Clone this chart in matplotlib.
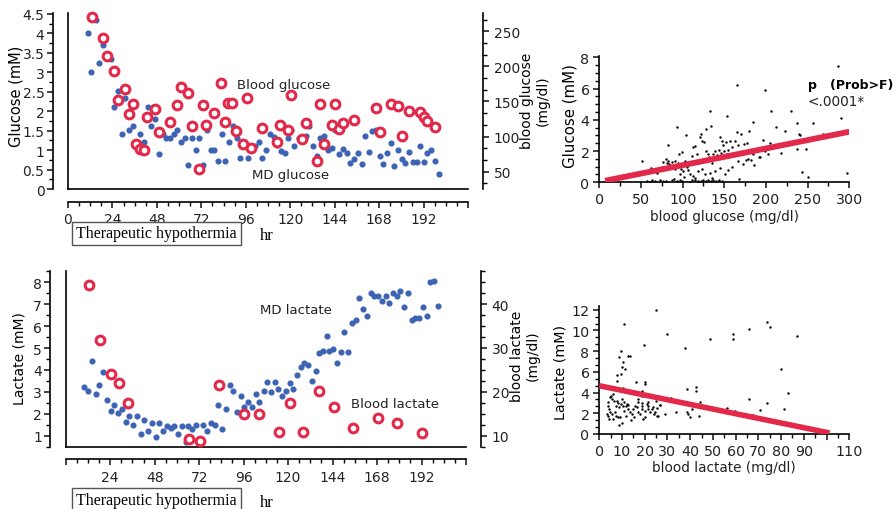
import matplotlib
matplotlib.use('Agg')
import matplotlib.pyplot as plt
from matplotlib.ticker import MultipleLocator, FixedLocator, FuncFormatter

plt.rcParams['font.family'] = ['DejaVu Sans']
plt.rcParams['font.size'] = 10

# ---------------- data ----------------
md_glu_hr = [10.6, 12.6, 15.1, 16.7, 18.9, 23.0, 25.0, 26.9, 28.9, 31.0,
             32.8, 35.0, 36.8, 38.9, 41.0, 43.0, 44.8, 46.8, 49.0, 51.1,
             53.0, 55.0, 57.0, 59.0, 61.0, 63.0, 65.0, 67.0, 69.0, 71.0,
             73.0, 75.0, 77.0, 79.0, 81.0, 83.0, 85.0, 87.0, 89.0, 91.0,
             93.0, 95.0, 97.0, 99.0, 101.0, 103.0, 105.0, 107.0, 109.0, 111.0,
             113.0, 115.0, 117.0, 119.0, 120.4, 122.3, 124.5, 126.3, 128.4, 130.4,
             132.4, 134.4, 136.3, 138.4, 140.4, 142.4, 144.3, 146.3, 148.4, 150.4,
             152.4, 154.5, 156.5, 158.5, 160.6, 162.4, 164.4, 166.3, 168.3, 170.3,
             172.2, 174.2, 176.2, 178.1, 180.3, 182.1, 184.1, 186.2, 188.2, 190.2,
             192.1, 194.1, 196.1, 198.2, 200.2]
md_glu_mM = [4.0, 3.0, 4.33, 3.23, 3.7, 3.33, 2.1, 2.52, 1.42, 2.33,
             1.52, 1.62, 1.2, 1.42, 1.2, 2.1, 1.62, 1.8, 0.9, 1.42,
             1.3, 1.3, 1.42, 1.52, 1.2, 1.3, 0.62, 1.3, 1.0, 1.3,
             0.62, 1.52, 1.0, 1.0, 0.72, 1.42, 0.72, 1.2, 1.62, 1.3,
             0.8, 1.2, 0.8, 1.1, 1.1, 1.2, 0.8, 1.0, 1.4, 1.33,
             1.13, 0.98, 0.92, 1.3, 1.52, 1.10, 1.31, 1.24, 1.37, 1.62,
             1.10, 0.85, 1.32, 1.35, 1.0, 1.05, 1.51, 0.90, 1.02, 0.93,
             0.67, 0.76, 0.93, 0.64, 1.37, 0.96, 1.48, 1.51, 0.84, 0.64,
             0.93, 1.18, 0.60, 0.99, 0.78, 0.66, 0.96, 0.70, 0.70, 1.10,
             0.70, 0.93, 0.99, 0.73, 0.38]

blood_glu_hr = [13.0, 18.9, 21.0, 24.9, 26.8, 31.0, 33.0, 35.0, 36.9, 38.9,
                41.0, 42.8, 46.8, 49.0, 54.9, 58.8, 60.8, 64.7, 66.7, 70.8,
                72.7, 74.7, 78.6, 82.6, 84.7, 86.5, 88.7, 90.6, 94.6, 96.5,
                98.7, 104.5, 112.6, 114.7, 118.6, 120.6, 126.3, 128.4, 134.5, 136.3,
                138.3, 142.4, 144.3, 146.3, 148.3, 154.5, 166.3, 168.3, 174.2, 178.1,
                180.1, 184.1, 190.2, 192.1, 194.1, 198.0]
blood_glu_mgdl = [270, 240, 214.5, 194, 152.5, 168, 132, 147, 90, 83,
                  81, 127.5, 139, 106, 120.4, 144.7, 171, 161.5, 115.4, 53.8,
                  144.7, 117, 133.6, 177, 120.4, 148, 148, 108, 88.8, 154.6,
                  84.3, 112, 92.6, 117, 109.8, 159, 96.6, 119.4, 64.8, 146,
                  89, 117, 147, 110.8, 118.9, 123.2, 141.2, 107, 147, 144,
                  101.3, 137, 135.5, 127.5, 122.2, 114.1]

md_lac_hr = [9.9, 12.3, 14.3, 16.3, 18.2, 20.2, 22.2, 24.3, 26.3, 28.2,
             30.2, 32.4, 34.4, 36.3, 38.3, 40.4, 42.4, 44.4, 46.4, 48.5,
             50.5, 52.4, 54.4, 56.6, 58.6, 60.5, 62.5, 64.7, 66.1, 68.3,
             70.2, 74.2, 76.3, 78.3, 80.4, 82.4, 84.4, 86.4, 88.5, 90.5,
             92.5, 94.4, 96.4, 98.6, 100.5, 102.5, 104.5, 106.8, 108.5, 110.8,
             112.7, 114.8, 116.7, 118.8, 120.8, 122.8, 124.7, 126.9, 128.8, 131.0,
             132.8, 134.8, 136.8, 138.9, 140.9, 142.3, 144.3, 146.3, 148.4, 150.4,
             152.5, 154.5, 156.6, 158.4, 160.6, 162.6, 164.6, 166.5, 168.5, 170.6,
             172.6, 174.6, 176.6, 178.5, 180.5, 182.6, 184.8, 186.6, 188.5, 190.7,
             192.8, 194.8, 196.8, 198.8, 200.9]
md_lac_mM = [3.21, 3.04, 4.39, 2.92, 3.33, 3.89, 2.64, 2.13, 2.41, 2.02,
             2.23, 1.62, 1.88, 1.49, 1.88, 1.09, 1.73, 1.20, 1.60, 0.93,
             1.60, 1.20, 1.44, 1.34, 1.44, 1.08, 1.44, 0.70, 1.44, 1.30,
             1.49, 1.49, 1.20, 1.60, 1.49, 2.41, 1.31, 2.23, 3.33, 3.04,
             2.10, 2.80, 2.29, 2.54, 2.29, 2.92, 2.54, 3.05, 3.44, 2.98,
             3.44, 3.13, 2.80, 3.05, 3.40, 3.14, 3.78, 4.12, 4.32, 4.25,
             3.48, 3.95, 4.77, 4.88, 5.56, 4.87, 4.97, 4.30, 4.81, 5.72,
             4.81, 6.13, 6.29, 7.27, 6.77, 6.46, 7.50, 7.39, 7.39, 7.16,
             7.38, 7.04, 7.50, 7.38, 7.62, 6.86, 7.50, 6.29, 6.36, 6.36,
             6.86, 6.45, 8.00, 8.07, 6.93]

blood_lac_hr = [12.5, 18.4, 24.5, 28.5, 33.5, 66.4, 72.4, 82.6, 96.4, 104.5,
                114.9, 120.8, 128.3, 136.8, 144.8, 154.9, 168.5, 178.5, 192.5]
blood_lac_mgdl = [44.4, 31.7, 24.1, 22.1, 17.4, 9.3, 8.9, 21.6, 14.9, 15.0,
                  10.9, 17.4, 10.9, 20.3, 16.5, 11.8, 14.0, 12.8, 10.6]

# scatter: MD glucose (mM) vs blood glucose (mg/dl)
sg_blood = [286.8, 165.6, 199.2, 133.2, 152.8, 206.0, 230.0, 290.0, 237.6, 256.8,
            184.8, 212.0, 222.8, 93.2, 104.0, 82.4, 51.2, 242.8, 250.8, 297.6,
            239.2, 240.8, 236.8, 248.0, 217.6, 192.0, 268.8, 230.8, 204.8,
            80.0, 82.8, 86.8, 90.8, 80.8, 95.6, 99.6, 102.8, 104.8, 106.8,
            110.8, 112.8, 114.8, 116.8, 118.8, 120.8, 122.0, 123.6, 126.0, 127.6,
            128.4, 130.0, 131.6, 133.6, 134.8, 136.8, 138.8, 140.8, 142.0, 143.6,
            144.8, 146.0, 147.6, 148.8, 150.0, 151.6, 152.8, 154.0, 154.8, 156.4,
            158.0, 158.8, 160.8, 162.8, 164.8, 166.0, 166.8, 167.6, 170.0, 170.8,
            172.8, 174.0, 175.6, 176.8, 178.8, 180.0, 182.0, 184.0, 186.0, 188.8,
            192.8, 196.8, 198.8, 202.8,
            90.8, 96.8, 100.8, 108.8, 112.8, 118.8, 122.8, 126.8, 132.8, 138.8,
            144.8, 150.8, 154.8, 159.6, 102.0, 114.8, 134.8,
            62.0, 68.8, 74.8, 76.8, 83.6, 88.8, 94.8, 98.0,
            57.6, 60.8, 63.6, 66.8, 72.8, 76.8, 79.6, 87.6, 90.0, 92.8,
            96.8, 99.6, 108.8, 111.8, 114.8, 118.0, 122.0, 124.8, 127.6, 130.8,
            134.0, 136.8, 139.6, 143.6, 146.8]
sg_md = [7.47, 6.23, 5.91, 4.59, 4.22, 4.57, 4.59, 4.10, 3.80, 3.78,
         3.88, 3.52, 3.30, 3.56, 3.03, 2.41, 1.38, 0.63, 0.31, 0.59,
         3.09, 3.05, 2.11, 2.15, 1.89, 1.59, 3.09, 2.45, 2.49,
         1.47, 1.34, 1.27, 1.34, 1.21, 1.81, 1.92, 1.38, 0.95, 0.78,
         1.70, 2.24, 2.34, 1.81, 1.38, 2.88, 3.09, 2.62, 2.56, 3.41,
         2.02, 1.81, 1.60, 3.63, 1.21, 1.81, 2.02, 1.77, 1.64, 2.07,
         2.92, 1.85, 2.62, 2.41, 2.02, 2.56, 1.81, 1.60, 2.07, 2.62,
         1.70, 2.24, 1.81, 2.62, 3.20, 2.41, 1.38, 0.23, 3.09, 1.81,
         1.17, 2.45, 1.42, 2.49, 1.49, 3.26, 1.42, 1.81, 1.13, 2.02,
         1.60, 2.71, 2.02, 1.81,
         0.85, 0.53, 0.70, 0.53, 0.42, 0.70, 0.85, 0.53, 0.57, 0.74,
         0.91, 0.53, 0.78, 0.99, 0.31, 0.27, 0.27,
         0.91, 0.61, 0.95, 1.27, 1.17, 1.06, 1.21, 0.85,
         0.10, 0.05, 0.12, 0.08, 0.15, 0.10, 0.06, 0.12, 0.18, 0.08,
         0.14, 0.10, 0.05, 0.12, 0.16, 0.08, 0.10, 0.14, 0.06, 0.12,
         0.09, 0.15, 0.10, 0.12, 0.07]

# scatter: MD lactate (mM) vs blood lactate (mg/dl)
sl_blood = [24.8, 10.7, 29.8, 48.8, 58.9, 58.9, 65.9, 73.9, 74.9, 86.9,
            19.8, 37.7, 79.9, 83.0, 81.1, 73.9, 70.9, 65.9, 67.7, 59.8,
            56.0, 42.7, 42.7, 38.8, 44.1, 40.7, 38.5, 38.9, 40.0, 43.9,
            33.8, 31.6, 29.0,
            9.56, 8.68, 10.3, 12.5, 13.5, 9.85, 9.71, 11.5, 7.80, 7.80,
            10.6, 16.2, 20.0, 20.0, 18.7, 19.0, 24.8, 26.7,
            3.98, 4.72, 5.16, 5.74, 6.18, 6.62, 7.21, 3.69, 4.28, 3.25,
            3.98, 4.86, 5.45, 6.18, 7.65, 8.39, 8.68, 9.56, 10.15, 10.59,
            11.03, 11.62, 12.06, 12.79, 7.21, 8.09, 8.68, 9.85, 9.12, 11.62,
            13.52, 13.96, 14.99, 15.73, 16.46, 16.90, 17.19, 17.93, 18.66, 18.96,
            19.40, 20.13, 20.86, 21.30, 21.60, 22.33, 23.07, 23.80, 24.53, 25.27,
            25.71, 26.74, 18.66, 15.43, 14.26, 20.13, 24.24, 25.27, 21.60, 17.19,
            4.28, 6.92, 11.03, 12.50]
sl_md = [11.94, 10.62, 9.68, 9.20, 9.65, 9.14, 10.13, 10.81, 10.30, 9.46,
         8.56, 8.27, 6.31, 3.96, 2.41, 2.99, 2.29, 3.41, 1.84, 2.22,
         2.51, 4.57, 4.18, 4.38, 3.06, 2.41, 2.09, 1.93, 1.61, 1.71,
         2.09, 3.44, 1.96,
         8.01, 7.40, 6.98, 7.50, 7.50, 6.44, 5.79, 6.27, 5.70, 5.12,
         4.41, 5.05, 4.99, 4.83, 4.18, 3.70, 3.22, 2.83,
         3.06, 3.54, 3.70, 3.38, 3.86, 3.22, 2.74, 2.74, 2.41, 1.93,
         1.77, 2.16, 1.93, 1.45, 3.22, 2.99, 2.58, 2.90, 3.38, 2.74,
         3.06, 2.67, 2.90, 2.41, 1.77, 1.61, 0.87, 1.06, 1.61, 1.77,
         2.09, 1.38, 2.41, 2.74, 2.58, 3.38, 2.09, 1.93, 2.99, 2.74,
         1.45, 1.61, 2.90, 2.41, 2.74, 2.09, 2.41, 2.58, 2.09, 2.54,
         1.71, 2.80, 2.41, 1.61, 1.93, 2.25, 1.93, 1.77, 3.06, 3.06,
         1.45, 2.09, 2.25, 2.80]

# regression fits (intercept, slope, x-range)
glu_fit = (0.025, 0.0107, 7, 300)
lac_fit = (4.66, -0.045, 0, 101.3)

hour_ticks = [0, 24, 48, 72, 96, 120, 144, 168, 192, 216]

# ---------------- figure ----------------
W, H = 895, 510
fig = plt.figure(figsize=(W / 100, H / 100), dpi=100)


def box(l, t, r, b):
    return [l / W, 1 - b / H, (r - l) / W, (b - t) / H]


BLUE = '#3D63B4'
RED = '#E3294A'
LW = 1.2
TXT = '#222222'
TICK_FS = 10


def style_time(ax, axr, hide):
    ax.spines['top'].set_visible(False)
    ax.spines['right'].set_visible(False)
    for s in ['left', 'bottom', 'top']:
        axr.spines[s].set_visible(False)
    ax.spines['left'].set_position(('outward', 11))
    ax.spines['bottom'].set_position(('outward', 9))
    axr.spines['right'].set_position(('outward', 11))
    for sp in [ax.spines['left'], ax.spines['bottom'], axr.spines['right']]:
        sp.set_linewidth(LW)
    ax.plot([0, 0], [0, 1], transform=ax.transAxes, color='k', lw=LW, clip_on=False)
    ax.plot([0, 1], [0, 0], transform=ax.transAxes, color='k', lw=LW, clip_on=False)
    ax.set_xlim(0, 216)
    ax.xaxis.set_major_locator(FixedLocator(hour_ticks))
    ax.xaxis.set_minor_locator(MultipleLocator(6))
    ax.xaxis.set_major_formatter(FuncFormatter(lambda v, p: '' if v in hide else f'{v:g}'))
    for a in (ax, axr):
        a.tick_params(which='major', direction='out', length=4.5, width=LW,
                      labelsize=TICK_FS, colors=TXT)
        a.tick_params(which='minor', direction='out', length=3, width=1.0)
    ax.tick_params(axis='y', which='major', pad=1.5)
    ax.tick_params(axis='x', which='major', pad=3)
    axr.tick_params(axis='y', which='major', pad=3)


gfmt = FuncFormatter(lambda v, p: f'{v:g}')

# ---- glucose time series ----
ax1 = fig.add_axes(box(68, 14, 468, 190))
ax1r = ax1.twinx()
style_time(ax1, ax1r, hide=(216,))
ax1.set_ylim(0, 4.52)
ax1.yaxis.set_major_locator(MultipleLocator(0.5))
ax1.yaxis.set_minor_locator(MultipleLocator(0.25))
ax1.yaxis.set_major_formatter(gfmt)
ax1r.set_ylim(25.4, 276)
ax1r.yaxis.set_major_locator(FixedLocator([50, 100, 150, 200, 250]))
ax1r.yaxis.set_minor_locator(MultipleLocator(50 / 3))
ax1.plot(md_glu_hr, md_glu_mM, 'o', color=BLUE, ms=3.4, mec=BLUE, clip_on=False)
ax1r.plot(blood_glu_hr, blood_glu_mgdl, 'o', ms=6.3, mfc='white', mec=RED, mew=2.2, clip_on=False)
ax1.text(91, 2.69, 'Blood glucose', fontsize=9.5, va='center', ha='left', color=TXT)
ax1.text(99.2, 0.38, 'MD glucose', fontsize=9.5, va='center', ha='left', color=TXT)

# ---- lactate time series ----
ax2 = fig.add_axes(box(65.7, 271.7, 466, 447.7))
ax2r = ax2.twinx()
style_time(ax2, ax2r, hide=(0, 216))
ax2.set_ylim(0.5, 8.53)
ax2.yaxis.set_major_locator(FixedLocator([1, 2, 3, 4, 5, 6, 7, 8]))
ax2.yaxis.set_minor_locator(MultipleLocator(0.5))
ax2.yaxis.set_major_formatter(gfmt)
ax2r.set_ylim(7.5, 47.6)
ax2r.yaxis.set_major_locator(FixedLocator([10, 20, 30, 40]))
ax2r.yaxis.set_minor_locator(MultipleLocator(2.5))
ax2.plot(md_lac_hr, md_lac_mM, 'o', color=BLUE, ms=3.4, mec=BLUE, clip_on=False)
ax2r.plot(blood_lac_hr, blood_lac_mgdl, 'o', ms=6.3, mfc='white', mec=RED, mew=2.2, clip_on=False)
ax2.text(105, 6.78, 'MD lactate', fontsize=9.5, va='center', ha='left', color=TXT)
ax2.text(153.8, 2.49, 'Blood lactate', fontsize=9.5, va='center', ha='left', color=TXT)

# axis labels (time series)
fig.text(15.7 / W, 1 - 96 / H, 'Glucose (mM)', rotation=90, ha='center', va='center', fontsize=10.5)
fig.text(20 / W, 1 - 359 / H, 'Lactate (mM)', rotation=90, ha='center', va='center', fontsize=10)
fig.text(535 / W, 1 - 101 / H, 'blood glucose\n(mg/dl)', rotation=90, ha='center', va='center',
         multialignment='center', fontsize=10, linespacing=1.1)
fig.text(525 / W, 1 - 356 / H, 'blood lactate\n(mg/dl)', rotation=90, ha='center', va='center',
         multialignment='center', fontsize=10, linespacing=1.1)

bb = dict(boxstyle='square,pad=0.25', fc='white', ec='#555555', lw=1.0)
for yc in (234.5, 501):
    fig.text(156.5 / W, 1 - yc / H, 'Therapeutic hypothermia', family='Liberation Serif',
             fontsize=11.5, ha='center', va='center', bbox=bb)
    fig.text(267 / W, 1 - (yc + 2) / H, 'hr', family='Liberation Serif', fontsize=12,
             ha='center', va='center')


# ---- scatter plots ----
def style_scatter(ax):
    ax.spines['top'].set_visible(False)
    ax.spines['right'].set_visible(False)
    for s in ['left', 'bottom']:
        ax.spines[s].set_linewidth(LW)
    ax.tick_params(which='major', direction='out', length=4.5, width=LW, labelsize=10.3,
                   colors=TXT, pad=2.5)
    ax.tick_params(which='minor', direction='out', length=3, width=1.0)


s1 = fig.add_axes(box(599.3, 56.7, 849.3, 183.3))
style_scatter(s1)
s1.set_xlim(0, 300)
s1.set_ylim(0, 8.1)
s1.xaxis.set_major_locator(MultipleLocator(50))
s1.xaxis.set_minor_locator(MultipleLocator(25))
s1.yaxis.set_major_locator(FixedLocator([0, 2, 4, 6, 8]))
s1.yaxis.set_minor_locator(MultipleLocator(0.5))
s1.scatter(sg_blood, sg_md, s=3, color='black', linewidths=0, zorder=2)
a, b, x0, x1 = glu_fit
s1.plot([x0, x1], [a + b * x0, a + b * x1], color=RED, lw=4.2, solid_capstyle='butt', zorder=3)
s1.set_xlabel('blood glucose (mg/dl)', fontsize=9.8, labelpad=2, color=TXT)
fig.text(570 / W, 1 - 116 / H, 'Glucose (mM)', rotation=90, ha='center', va='center', fontsize=10.8)
fig.text(808 / W, 1 - 85 / H, 'p   (Prob>F)', weight='bold', ha='left', va='center', fontsize=9)
fig.text(808 / W, 1 - 101.7 / H, '<.0001*', ha='left', va='center', fontsize=9.8, color=TXT)

s2 = fig.add_axes(box(599.3, 306.7, 849.3, 435))
style_scatter(s2)
s2.set_xlim(0, 110)
s2.set_ylim(0, 12.39)
s2.xaxis.set_major_locator(FixedLocator([0, 10, 20, 30, 40, 50, 60, 70, 80, 90, 100, 110]))
s2.xaxis.set_major_formatter(FuncFormatter(lambda v, p: '' if abs(v - 100) < 1e-6 else f'{v:g}'))
s2.xaxis.set_minor_locator(MultipleLocator(5))
s2.yaxis.set_major_locator(FixedLocator([0, 2, 4, 6, 8, 10, 12]))
s2.yaxis.set_minor_locator(MultipleLocator(2 / 3))
s2.scatter(sl_blood, sl_md, s=3, color='black', linewidths=0, zorder=2)
a, b, x0, x1 = lac_fit
s2.plot([x0, x1], [a + b * x0, a + b * x1], color=RED, lw=4.0, solid_capstyle='butt', zorder=3)
s2.set_xlabel('blood lactate (mg/dl)', fontsize=9.8, labelpad=2, color=TXT)
fig.text(561 / W, 1 - 372 / H, 'Lactate (mM)', rotation=90, ha='center', va='center', fontsize=10.3)

fig.savefig('out.png', dpi=100)
